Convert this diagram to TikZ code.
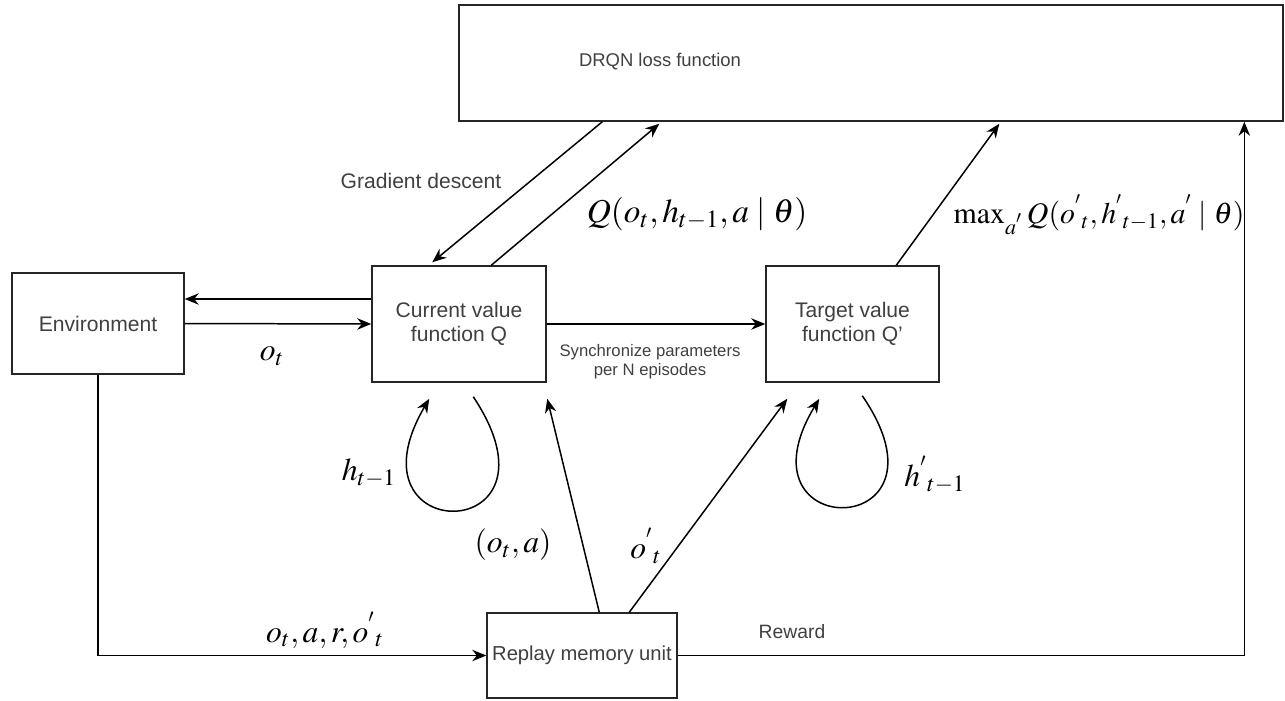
\documentclass[tikz,border=0pt]{standalone}
\usepackage{amsmath}
\usepackage{mathptmx}
\usepackage{fontspec}
\setmainfont{Liberation Sans}
\usetikzlibrary{arrows.meta, calc}

\begin{document}
\begin{tikzpicture}[
            x = 0.02cm, y = -0.02cm, % one unit per pixel
            > = {Stealth[length=8pt, width=6.5pt]}, % arrow head style
            line width = 0.85pt, % line style
            font = \fontsize{12}{14}\selectfont
        ]

        \tikzstyle{block}=[
            draw = black!85,
            fill = white,
            text = black!75,
            align = center,
            inner sep = 0pt
        ]
        \tikzstyle{txt}=[text = black!75, inner sep = 0pt]
        \tikzstyle{mlbl}=[font = \fontsize{18}{20}\selectfont, inner sep = 0pt]

        \useasboundingbox (0,0) rectangle (1285,700);

        % boxes
        \node[block, minimum width=16.48cm, minimum height=2.32cm] (loss) at (871,63) {};
        \node[txt, font=\fontsize{10.5}{13}\selectfont] (losstxt) at (660,62) {DRQN loss function};
        \node[block, minimum width=3.44cm, minimum height=2.02cm] (env) at (98,323.5) {Environment};
        \node[block, minimum width=3.48cm, minimum height=2.32cm] (cur) at (459,324) {Current value\\function Q};
        \node[block, minimum width=3.46cm, minimum height=2.32cm] (tgt) at (852.5,324) {Target value\\function Q'};
        \node[block, minimum width=3.8cm, minimum height=1.7cm, font=\fontsize{11.5}{13}\selectfont] (mem) at (582,655.5) {Replay memory unit};

        % connectors
        \draw[->] ($(cur.west)+(0,-25)$) -- ($(env.east)+(0,-24.5)$);
        \draw[->] (env.east) -- (cur.west);
        \draw[->] ($(loss.south west)+(144,0)$) -- ($(cur.north west)+(61,-3)$);
        \draw[->] ($(cur.north west)+(120,0)$) -- ($(loss.south west)+(201,2)$);
        \draw[->] ($(tgt.north west)+(131,0)$) -- ($(loss.south west)+(541,2)$);
        \draw[->] (cur.east) -- (tgt.west);
        \draw[->] (env.south) |- (mem.west);
        \draw[->] (mem.east) -| ($(loss.south west)+(786,0)$);
        \draw[->] ($(mem.north west)+(113,0)$) -- ($(cur.south west)+(176,16)$);
        \draw[->] ($(mem.north west)+(143,0)$) -- ($(tgt.south west)+(22,16)$);

        % hidden state loops
        \draw[->] ($(cur.south west)+(102,14)$) .. controls +(100,150) and +(-88,150) .. ($(cur.south west)+(58,16)$);
        \draw[->] ($(tgt.south west)+(97,13)$) .. controls +(100,146) and +(-88,146) .. ($(tgt.south west)+(54,16)$);

        % labels
        \node[txt] (grad) at (421,181) {Gradient descent};
        \node[txt, font=\fontsize{9.5}{11}\selectfont, align=center] (sync) at (650,362) {Synchronize parameters\\per N episodes};
        \node[txt, font=\fontsize{11}{13}\selectfont] (rew) at (792,632) {Reward};
        \node[mlbl, font=\fontsize{19}{21}\selectfont] (qcur) at (697,214) {$Q(o_t,h_{t-1},a\mid\theta)$};
        \node[mlbl, font=\fontsize{17}{20}\selectfont] (qtgt) at (1099,215) {$\max_{a^{'}} Q({o^{'}}_{t},{h^{'}}_{t-1},a^{'}\mid\theta)$};
        \node[mlbl] (obs) at (272,356) {$o_t$};
        \node[mlbl] (hcur) at (369,473) {$h_{t-1}$};
        \node[mlbl] (htgt) at (935,475) {${h^{'}}_{t-1}$};
        \node[mlbl] (oa) at (513,545) {$(o_t,a)$};
        \node[mlbl] (onext) at (646,546) {${o^{'}}_{t}$};
        \node[mlbl] (trans) at (325,630) {$o_t,a,r,{o^{'}}_{t}$};

  \end{tikzpicture}
\end{document}
